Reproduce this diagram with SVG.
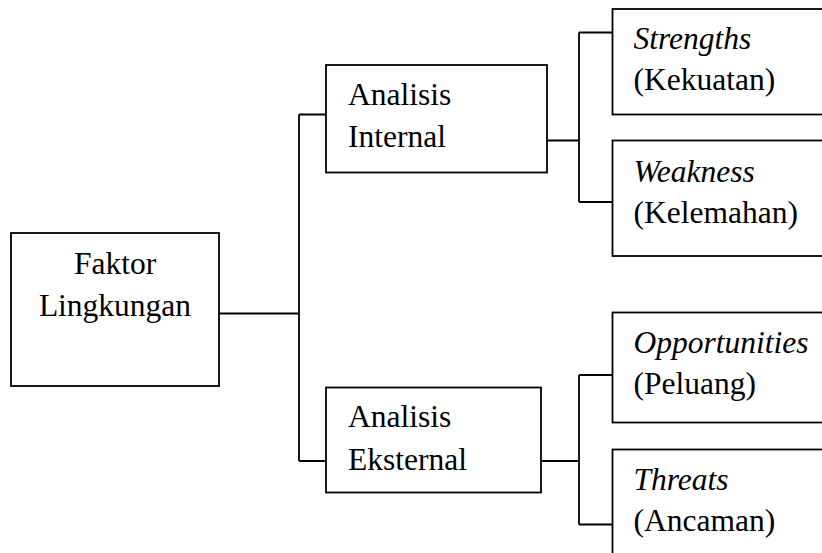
<svg xmlns="http://www.w3.org/2000/svg" width="822" height="553" viewBox="0 0 822 553">
<style>
.box{fill:#fff;stroke:#000;stroke-width:1.8}
.con{fill:none;stroke:#000;stroke-width:1.8}
text{font-family:"Liberation Serif","Times New Roman",serif;font-size:31.5px;fill:#000}
.it{font-style:italic}
</style>
<rect width="822" height="553" fill="#fff"/>
<g id="connectors">
<path class="con" d="M219 313.5H299M299 114.5V461M299 114.5H326M299 461H326"/>
<path class="con" d="M547 140.5H579M579 32.5V202M579 32.5H612M579 202H612"/>
<path class="con" d="M541 461H579M579 375V524.5M579 375H612M579 524.5H612"/>
</g>
<g id="faktor">
<rect class="box" x="11" y="233" width="208" height="153"/>
<text x="115" y="273.5" text-anchor="middle">Faktor</text>
<text x="115" y="315.5" text-anchor="middle">Lingkungan</text>
</g>
<g id="internal">
<rect class="box" x="326" y="65" width="221" height="107.5"/>
<text x="348" y="105">Analisis</text>
<text x="348" y="147">Internal</text>
</g>
<g id="eksternal">
<rect class="box" x="326" y="387.5" width="215" height="105"/>
<text x="348" y="426.5">Analisis</text>
<text x="348" y="470">Eksternal</text>
</g>
<g id="strengths">
<rect class="box" x="612.5" y="9" width="220" height="105.5"/>
<text class="it" x="633.5" y="48.5">Strengths</text>
<text x="633.5" y="89.5">(Kekuatan)</text>
</g>
<g id="weakness">
<rect class="box" x="612.5" y="140.5" width="220" height="115.5"/>
<text class="it" x="633.5" y="181.5">Weakness</text>
<text x="633.5" y="222.5">(Kelemahan)</text>
</g>
<g id="opportunities">
<rect class="box" x="612.5" y="312.5" width="220" height="110"/>
<text class="it" x="633.5" y="353">Opportunities</text>
<text x="633.5" y="394">(Peluang)</text>
</g>
<g id="threats">
<rect class="box" x="612.5" y="449.5" width="220" height="120"/>
<text class="it" x="633.5" y="489.5">Threats</text>
<text x="633.5" y="530.5">(Ancaman)</text>
</g>
</svg>
